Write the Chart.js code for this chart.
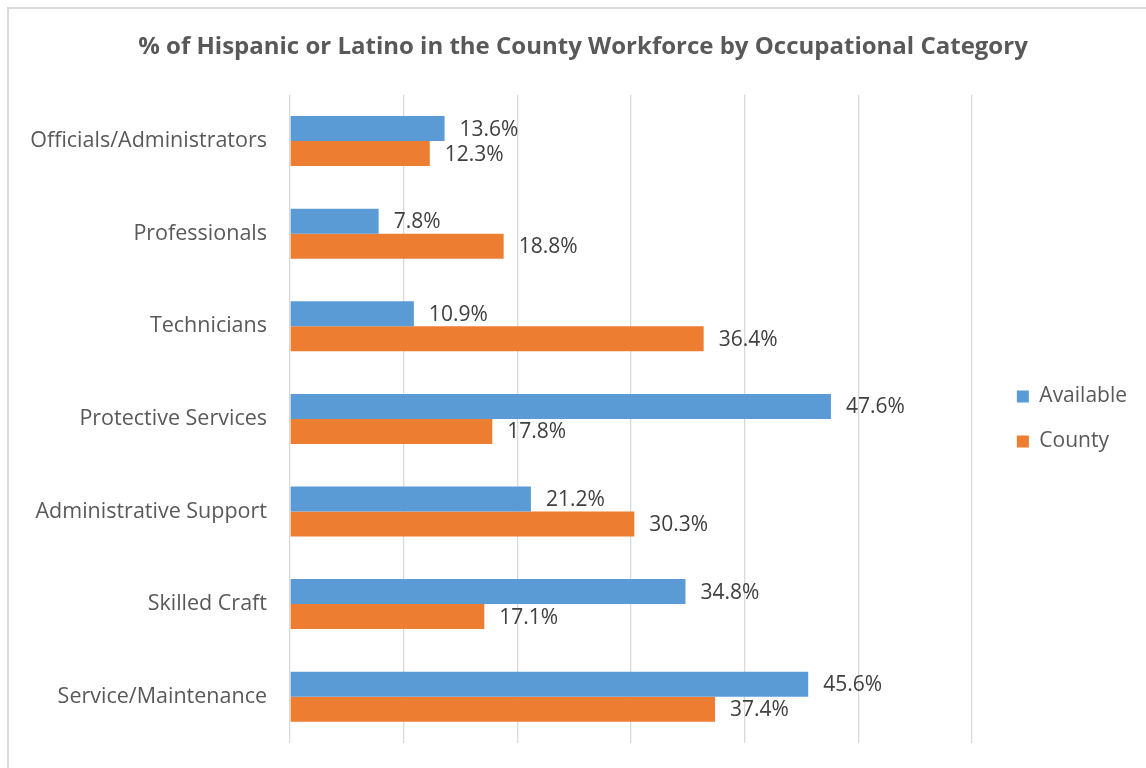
<!DOCTYPE html>
<html>
<head>
<meta charset="utf-8">
<script src="https://cdn.jsdelivr.net/npm/chart.js@4/dist/chart.umd.min.js"></script>
<style>
  body { margin: 0; background: #fff; }
  #frame {
    position: absolute; left: 7px; top: 7px; width: 1200px; height: 800px;
    border: 2px solid #d9d9d9; box-sizing: border-box;
  }
  #wrap { position: absolute; left: 0; top: 0; width: 1146px; height: 768px; }
</style>
</head>
<body>
<div id="frame"></div>
<div id="wrap"><canvas id="hisp-chart"></canvas></div>
<script>
const categories = ["Officials/Administrators", "Professionals", "Technicians",
  "Protective Services", "Administrative Support", "Skilled Craft", "Service/Maintenance"];
const availableValues = [13.6, 7.8, 10.9, 47.6, 21.2, 34.8, 45.6];
const countyValues = [12.3, 18.8, 36.4, 17.8, 30.3, 17.1, 37.4];

const fontName = '"Open Sans", sans-serif';

// draws the "13.6%" labels just past the end of each bar
const valueLabels = {
  id: 'valueLabels',
  afterDatasetsDraw(chart) {
    const ctx = chart.ctx;
    ctx.save();
    ctx.font = '21px ' + fontName;
    ctx.fillStyle = '#404040';
    ctx.textAlign = 'left';
    ctx.textBaseline = 'middle';
    chart.data.datasets.forEach((ds, i) => {
      chart.getDatasetMeta(i).data.forEach((bar, j) => {
        ctx.fillText(ds.data[j].toFixed(1) + '%', bar.x + 15, bar.y + 1);
      });
    });
    ctx.restore();
  }
};

const hispCanvas = document.getElementById('hisp-chart');

let hispChart = new Chart(hispCanvas, {
  type: 'bar',
  data: {
    labels: categories,
    datasets: [{
      label: 'Available',
      data: availableValues,
      backgroundColor: '#5B9BD5',
      categoryPercentage: 0.54,
      barPercentage: 1
    }, {
      label: 'County',
      data: countyValues,
      backgroundColor: '#ED7D31',
      categoryPercentage: 0.54,
      barPercentage: 1
    }]
  },
  options: {
    indexAxis: 'y',
    responsive: true,
    maintainAspectRatio: false,
    animation: false,
    layout: {
      padding: { left: 29, right: 9, top: 0, bottom: 25 }
    },
    scales: {
      x: {
        min: 0,
        max: 60,
        ticks: { display: false, stepSize: 10 },
        grid: { color: '#d9d9d9', lineWidth: 1.3, drawTicks: false },
        border: { display: false }
      },
      y: {
        ticks: {
          color: '#595959',
          font: { family: fontName, size: 21.5 },
          padding: 23
        },
        grid: { display: false, drawTicks: false },
        border: { display: false },
        afterFit(scale) {
          scale.width = 261;
          scale.paddingTop = 0;
          scale.paddingBottom = 0;
        }
      },
      gap: {
        type: 'category',
        position: 'right',
        ticks: { display: false },
        grid: { display: false, drawTicks: false },
        border: { display: false },
        afterFit(scale) { scale.width = 21; }
      }
    },
    plugins: {
      title: {
        display: true,
        text: '% of Hispanic or Latino in the County Workforce by Occupational Category',
        color: '#595959',
        font: { family: fontName, size: 24, weight: 'bold' },
        padding: { top: 33, bottom: 33 }
      },
      legend: {
        position: 'right',
        fullSize: false,
        labels: {
          color: '#595959',
          font: { family: fontName, size: 21 },
          boxWidth: 12,
          boxHeight: 12,
          padding: 24
        }
      },
      tooltip: { enabled: false }
    }
  },
  plugins: [valueLabels]
});
</script>
</body>
</html>
